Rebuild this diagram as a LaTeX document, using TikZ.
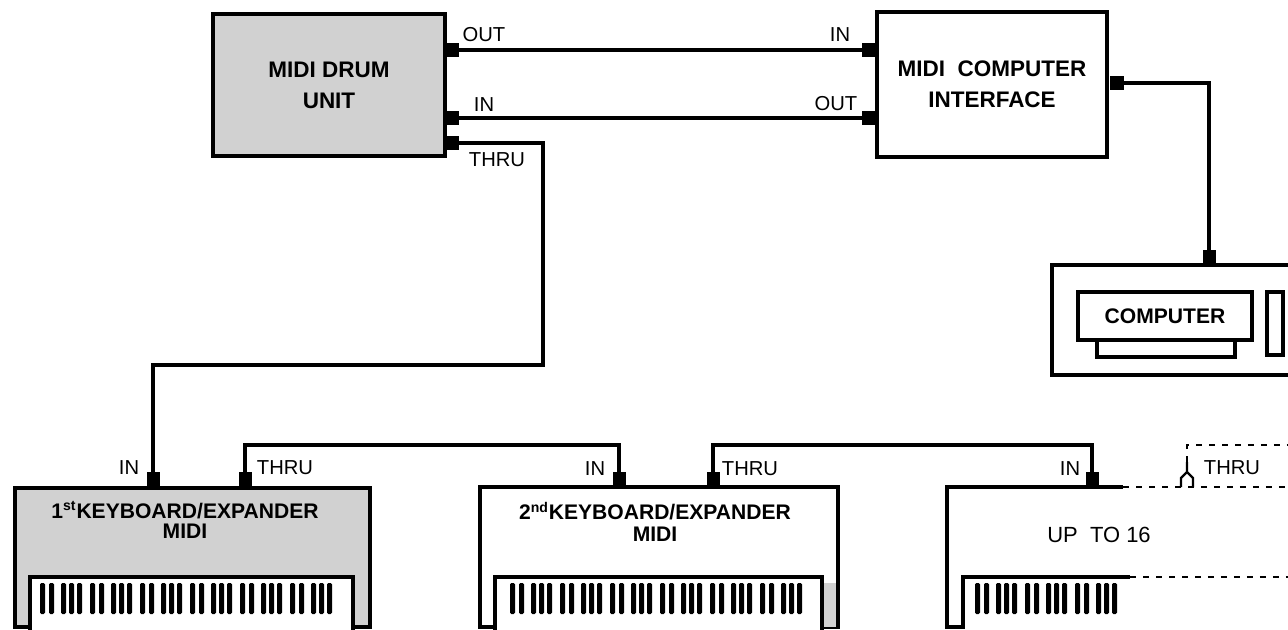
\documentclass[tikz,border=0pt]{standalone}
\usepackage{fontspec}
\setmainfont{Liberation Sans}
\usepackage{tikz}
\definecolor{panel}{gray}{0.82}

\tikzset{
  unit/.style={draw, line width=1.9pt, inner sep=0pt, align=center, font=\fontsize{12.8}{17.6}\selectfont\bfseries},
  jack/.style={fill=black, inner sep=0pt, minimum width=0.28cm, minimum height=0.28cm},
  topjack/.style={fill=black, inner sep=0pt, minimum width=0.26cm, minimum height=0.32cm},
  tag/.style={inner sep=0pt, font=\fontsize{11.5}{13}\selectfont},
  cable/.style={line width=1.9pt},
  ghost/.style={line width=1.2pt, dash pattern=on 0.12cm off 0.14cm},
  bedline/.style={line width=1.9pt}
}

\begin{document}
\begin{tikzpicture}[x=0.02cm, y=-0.02cm]
    \clip (0,0) rectangle (1288,629);
    % units
    \node[unit, fill=panel, minimum width=4.64cm, minimum height=2.84cm] (drum) at (329,85) {MIDI DRUM\\UNIT};
    \node[unit, minimum width=4.6cm, minimum height=2.9cm] (iface) at (992,84.5) {MIDI\ \ COMPUTER\\INTERFACE};
    \node[unit, minimum width=5.16cm, minimum height=2.2cm] (comp) at (1181,320) {};
    \draw[bedline] (1097,340) rectangle (1235,357);
    \node[unit, fill=white, minimum width=3.48cm, minimum height=0.96cm, font=\fontsize{12}{14}\selectfont\bfseries] (screen) at (1165,316) {COMPUTER};
    \draw[bedline] (1267,292) rectangle (1283,355);
    % keyboards
    \node[unit, fill=panel, minimum width=7.1cm, minimum height=2.78cm] (kbA) at (192.5,557.5) {};
    \node[unit, minimum width=7.16cm, minimum height=2.8cm] (kbB) at (659,557) {};
    \fill[panel] (822,583) rectangle (836,627);
    \draw[bedline] (1123,487) -| (947,627) -- (963,627) |- (1130,577);
    \draw[ghost] (1123,487) -- (1288,487);
    \draw[ghost] (1130,577) -- (1288,577);
    \filldraw[bedline, fill=white] (30,640) |- (353,577) -- (353,640);
    \filldraw[bedline, fill=white] (495,640) |- (822,577) -- (822,640);
    \foreach \o in {0,...,5} {\foreach \k in {0,9,21,29,37} {\fill[rounded corners=0.8pt] (40+\o*50+\k,583) rectangle ++(5,31);}}
    \foreach \o in {0,...,5} {\foreach \k in {0,9,21,29,37} {\fill[rounded corners=0.8pt] (510+\o*50+\k,583) rectangle ++(5,31);}}
    \foreach \o in {0,...,2} {\foreach \k in {0,9,21,29,37} {\fill[rounded corners=0.8pt] (975+\o*50+\k,583) rectangle ++(5,31);}}
    \node[unit, draw=none, font=\fontsize{12}{11.4}\selectfont\bfseries] (kbAname) at (185,520) {1\textsuperscript{st}KEYBOARD/EXPANDER\\MIDI};
    \node[unit, draw=none, font=\fontsize{12}{12.5}\selectfont\bfseries] (kbBname) at (655,522) {2\textsuperscript{nd}KEYBOARD/EXPANDER\\MIDI};
    \node[tag, font=\fontsize{12.5}{14}\selectfont] (kbCname) at (1099,535) {UP\ \ TO 16};
    % jacks
    \node[jack] (dOut) at (451.5,50) {};
    \node[jack] (dIn) at (451.5,118) {};
    \node[jack] (dThru) at (451.5,143) {};
    \node[jack, minimum width=0.32cm] (iIn) at (870,50) {};
    \node[jack, minimum width=0.32cm] (iOut) at (870,118) {};
    \node[jack] (iPort) at (1117,83) {};
    \node[topjack, minimum height=0.32cm] (cPort) at (1209,258) {};
    \node[topjack] (aIn) at (153,480) {};
    \node[topjack] (aThru) at (245,480) {};
    \node[topjack] (bIn) at (619,480) {};
    \node[topjack] (bThru) at (713,480) {};
    \node[topjack] (cIn) at (1092,480) {};
    \coordinate (cThru) at (1187,462);
    % labels
    \node[tag] (lDout) at (484,35) {OUT};
    \node[tag] (lDin) at (484,105) {IN};
    \node[tag] (lDthru) at (497,160) {THRU};
    \node[tag] (lIin) at (840,35) {IN};
    \node[tag] (lIout) at (836,104) {OUT};
    \node[tag] (lAin) at (129,468) {IN};
    \node[tag] (lAthru) at (285,468) {THRU};
    \node[tag] (lBin) at (595,469) {IN};
    \node[tag] (lBthru) at (750,469) {THRU};
    \node[tag] (lCin) at (1070,469) {IN};
    \node[tag] (lCthru) at (1232,468) {THRU};
    % cables
    \coordinate (drop) at (543,365);
    \coordinate (rail) at (0,445);
    \coordinate (offpage) at (1288,445);
    \draw[cable] (dOut.east) -- (iIn.west);
    \draw[cable] (iOut.west) -- (dIn.east);
    \draw[cable] (dThru.east) -| (drop) -| (aIn.north);
    \draw[cable] (aThru.north) -- (aThru.north |- rail) -| (bIn.north);
    \draw[cable] (bThru.north) -- (bThru.north |- rail) -| (cIn.north);
    \draw[cable] (iPort.east) -| (cPort.north);
    \draw[ghost] (cThru) |- (offpage);
    \draw[line width=1.3pt] (cThru) -- ++(0,10) -- ++(-6,6) -- ++(0,9) (cThru) ++(0,10) -- ++(6,6) -- ++(0,9);
\end{tikzpicture}
\end{document}
